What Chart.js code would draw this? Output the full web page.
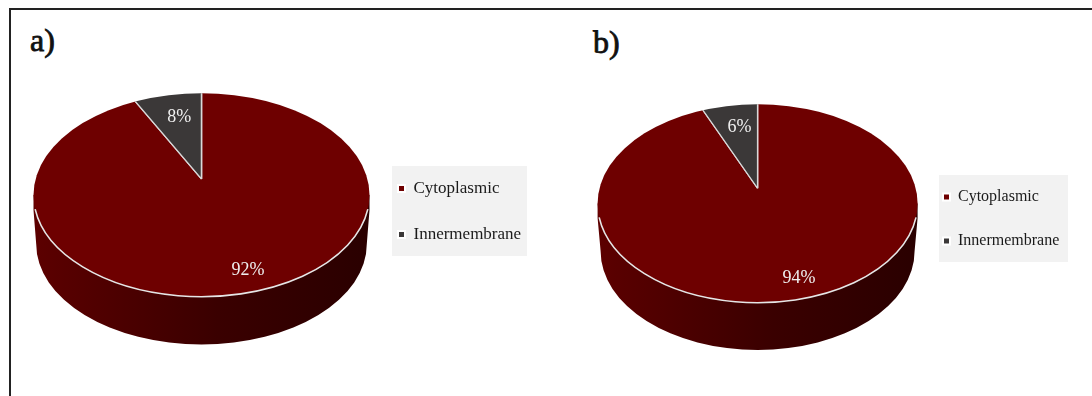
<!DOCTYPE html>
<html>
<head>
<meta charset="utf-8">
<title>Cytoplasmic vs Innermembrane</title>
<script src="https://cdn.jsdelivr.net/npm/chart.js@4"></script>
<style>
  html, body { margin: 0; padding: 0; background: #fff; overflow: hidden; }
  body { width: 1092px; height: 396px; position: relative; }
  .frame { position: absolute; left: 9px; top: 8px; width: 1200px; height: 500px; border: 2px solid #222; }
  .tag { position: absolute; font: 32px "Liberation Serif", serif; font-weight: 400; color: #111; -webkit-text-stroke: 0.8px #111; }
  .legend-box { position: absolute; background: #f2f2f2; }
  canvas { position: absolute; top: 0; }
</style>
</head>
<body>
<div class="frame"></div>
<div class="tag" style="left:30px; top:22px;">a)</div>
<div class="tag" style="left:593px; top:24px;">b)</div>
<div class="legend-box" style="left:392px; top:166px; width:135px; height:90px;"></div>
<div class="legend-box" style="left:939px; top:175px; width:129px; height:87px;"></div>
<div style="position:absolute; left:0; top:0; width:540px; height:396px;"><canvas id="chartA"></canvas></div>
<div style="position:absolute; left:540px; top:0; width:552px; height:396px;"><canvas id="chartB"></canvas></div>

<script>
// -------------------------------
// Data
// -------------------------------
const categories = ["Cytoplasmic", "Innermembrane"];
const valuesA = [92, 8];
const valuesB = [94, 6];
const sliceColors = ["#6e0000", "#3b3838"];

// -------------------------------
// Fake 3D pie: the arcs are squashed and clipped to an ellipse
// (all numbers are px inside the panel canvas)
// -------------------------------
const panelA = {
  cx: 201.5, cy: 195, rx: 168, ry: 101.7,
  apexY: 179, squash: 0.644,
  wallTop: 210, wallCy: 244, wallRx: 165.3, wallRy: 100.5,
  legendX: 369, legendY: 151, legendFont: 17, legendGap: 29,
  labels: [[248, 270], [179.3, 117]]
};
const panelB = {
  cx: 217.6, cy: 203.5, rx: 160, ry: 99.2,
  apexY: 188.3, squash: 0.566,
  wallTop: 218, wallCy: 251, wallRx: 157, wallRy: 99,
  legendX: 375, legendY: 161, legendFont: 16, legendGap: 28,
  labels: [[259, 278], [199.6, 127]]
};

function drawWall(ctx, p) {
  const grad = ctx.createLinearGradient(p.cx - p.rx, 0, p.cx + p.rx, 0);
  grad.addColorStop(0, "#5c0000");
  grad.addColorStop(0.55, "#3a0000");
  grad.addColorStop(1, "#2a0000");
  ctx.beginPath();
  ctx.moveTo(p.cx - p.rx, p.cy);
  ctx.lineTo(p.cx - p.rx, p.wallTop);
  ctx.lineTo(p.cx - p.wallRx, p.wallCy);
  ctx.ellipse(p.cx, p.wallCy, p.wallRx, p.wallRy, 0, Math.PI, 0, true);
  ctx.lineTo(p.cx + p.rx, p.wallTop);
  ctx.lineTo(p.cx + p.rx, p.cy);
  ctx.closePath();
  ctx.fillStyle = grad;
  ctx.fill();
}

const pie3d = {
  id: "pie3d",
  afterLayout(chart, args, opts) {
    const p = opts.panel;
    const lg = chart.legend;
    const w = lg.right - lg.left;
    lg.left = p.legendX;
    lg.right = p.legendX + w;
    lg.top = p.legendY;
    lg.bottom = p.legendY + 200;
  },
  beforeDatasetsDraw(chart, args, opts) {
    const p = opts.panel;
    const ctx = chart.ctx;
    const arcs = chart.getDatasetMeta(0).data;
    const first = arcs[0];

    drawWall(ctx, p);

    // top face
    ctx.save();
    ctx.beginPath();
    ctx.ellipse(p.cx, p.cy, p.rx, p.ry, 0, 0, Math.PI * 2);
    ctx.clip();
    const k = 1.35 * p.rx / first.outerRadius;
    ctx.translate(p.cx, p.apexY);
    ctx.scale(k, k * p.squash);
    ctx.translate(-first.x, -first.y);
    arcs.forEach(a => a.draw(ctx));
    ctx.restore();

    // light rim along the front
    ctx.beginPath();
    ctx.ellipse(p.cx, p.cy, p.rx, p.ry, 0, 0.14, Math.PI - 0.14);
    ctx.strokeStyle = "#e6e6e6";
    ctx.lineWidth = 1.6;
    ctx.stroke();

    // percent labels
    ctx.fillStyle = "#efefef";
    ctx.font = '18px "Liberation Serif", serif';
    ctx.textAlign = "center";
    ctx.textBaseline = "middle";
    chart.data.datasets[0].data.forEach((v, i) => {
      ctx.fillText(v + "%", p.labels[i][0], p.labels[i][1]);
    });
    return false;
  }
};

function makePie(id, values, panel) {
  return new Chart(document.getElementById(id), {
    type: "pie",
    data: {
      labels: categories,
      datasets: [{
        data: values,
        backgroundColor: sliceColors,
        borderColor: "#d9d9d9",
        borderWidth: 1.3
      }]
    },
    options: {
      responsive: true,
      maintainAspectRatio: false,
      animation: false,
      plugins: {
        tooltip: { enabled: false },
        pie3d: { panel: panel },
        legend: {
          position: "chartArea",
          align: "start",
          labels: {
            boxWidth: 7,
            boxHeight: 7,
            padding: panel.legendGap,
            color: "#1a1a1a",
            font: { family: '"Liberation Serif", serif', size: panel.legendFont },
            generateLabels(chart) {
              const items = Chart.overrides.pie.plugins.legend.labels.generateLabels(chart);
              items.forEach(it => { it.strokeStyle = "#ffffff"; it.lineWidth = 2; });
              return items;
            }
          }
        }
      }
    },
    plugins: [pie3d]
  });
}

makePie("chartA", valuesA, panelA);
makePie("chartB", valuesB, panelB);
</script>
</body>
</html>
